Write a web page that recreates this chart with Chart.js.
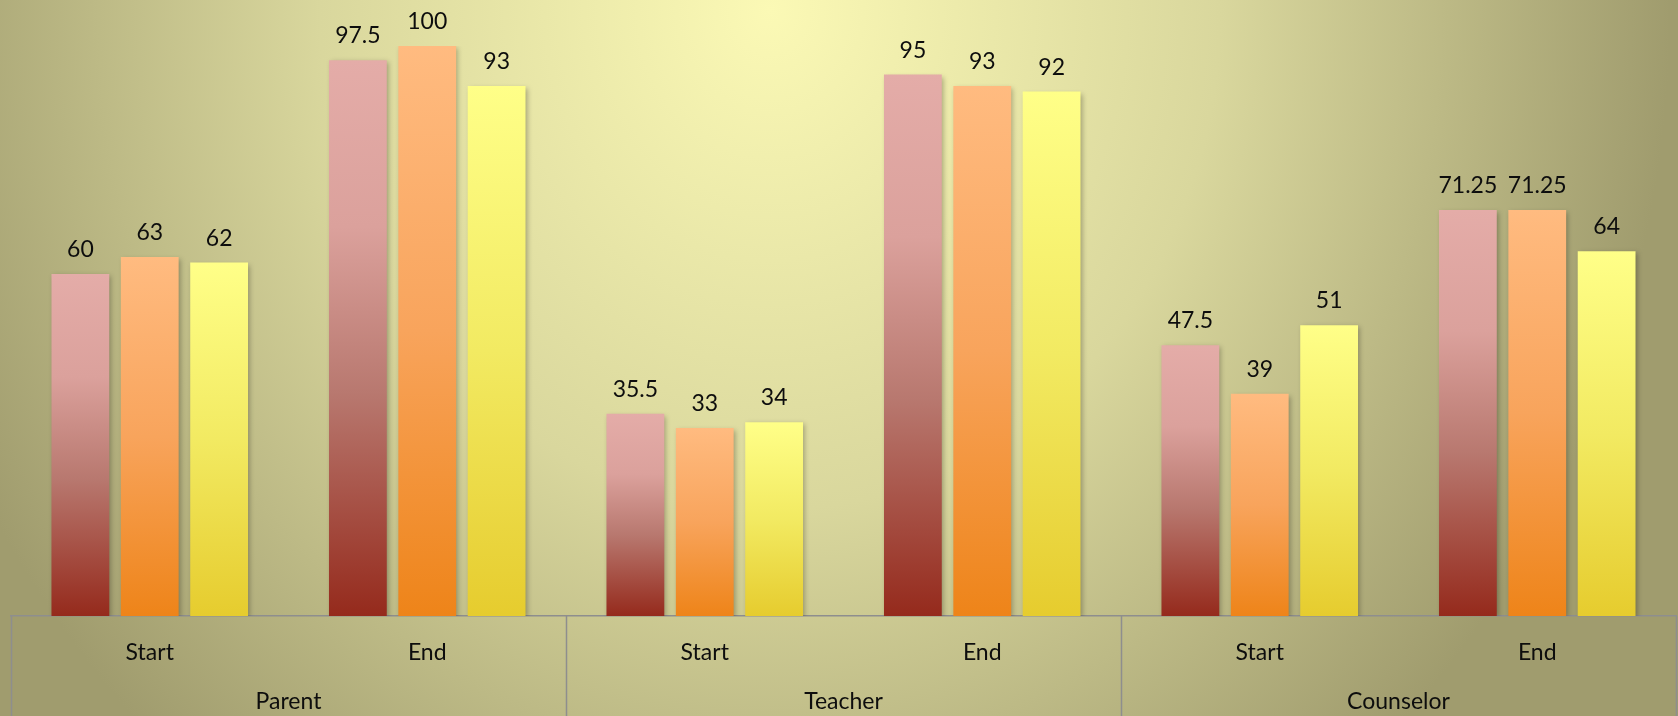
<!DOCTYPE html>
<html>
<head>
<meta charset="utf-8">
<script src="https://cdn.jsdelivr.net/npm/chart.js@4.4.1/dist/chart.umd.min.js"></script>
<style>
  html, body { margin: 0; padding: 0; }
  body {
    width: 1678px; height: 716px; overflow: hidden;
    background: radial-gradient(ellipse 900px 1000px at 770px 10px, #FBF9B5 0%, #D9D79D 50%, #A09C6E 100%);
  }
  .wrap { position: relative; width: 1678px; height: 716px; }
</style>
</head>
<body>
<div class="wrap"><canvas id="cv"></canvas></div>
<script>
const categories = ['Start', 'End', 'Start', 'End', 'Start', 'End'];
const groups = ['Parent', 'Teacher', 'Counselor'];
const series1 = [60, 97.5, 35.5, 95, 47.5, 71.25];
const series2 = [63, 100, 33, 93, 39, 71.25];
const series3 = [62, 93, 34, 92, 51, 64];

const FONT = 'Lato';
const AXIS_COLOR = '#8e8e8e';

// per bar vertical gradient, light on top, dark at the bottom
const barFill = (stops) => (c) => {
  const chart = c.chart;
  if (!chart.chartArea || c.type !== 'data') return stops[0][1];
  const y = chart.scales.y;
  const top = y.getPixelForValue(c.raw);
  const bot = y.getPixelForValue(0);
  const g = chart.ctx.createLinearGradient(0, top, 0, bot);
  stops.forEach(s => g.addColorStop(s[0], s[1]));
  return g;
};

const pinkStops = [[0, '#E4ACA8'], [0.3, '#DBA19C'], [0.6, '#B8786F'], [1, '#952A1C']];
const orangeStops = [[0, '#FFBB80'], [0.5, '#F8A45C'], [1, '#EE8419']];
const yellowStops = [[0, '#FFFF88'], [0.5, '#F2EA62'], [1, '#E6CC2E']];

const shadowPlugin = {
  id: 'shadow',
  beforeDatasetsDraw(chart) {
    const ctx = chart.ctx;
    ctx.save();
    ctx.shadowColor = 'rgba(0,0,0,0.28)';
    ctx.shadowBlur = 5;
    ctx.shadowOffsetX = 2;
    ctx.shadowOffsetY = 2;
  },
  afterDatasetsDraw(chart) {
    chart.ctx.restore();
  }
};

const labelsPlugin = {
  id: 'valueLabels',
  afterDraw(chart) {
    const ctx = chart.ctx;
    ctx.save();
    ctx.font = '23px ' + FONT;
    ctx.fillStyle = '#0d0d0d';
    ctx.textAlign = 'center';
    ctx.textBaseline = 'alphabetic';
    chart.data.datasets.forEach((ds, i) => {
      chart.getDatasetMeta(i).data.forEach((bar, j) => {
        ctx.fillText(String(ds.data[j]), bar.x, bar.y - 17);
      });
    });

    // group level of the x axis
    const x = chart.scales.x;
    const top = chart.chartArea.bottom;
    const bottom = chart.height;
    ctx.strokeStyle = AXIS_COLOR;
    ctx.lineWidth = 1.5;
    const edges = [x.left];
    for (let g = 1; g < groups.length; g++) {
      edges.push((x.getPixelForTick(g * 2 - 1) + x.getPixelForTick(g * 2)) / 2);
    }
    edges.push(x.right);
    edges.forEach(px => {
      ctx.beginPath();
      ctx.moveTo(Math.round(px) + 0.5, top);
      ctx.lineTo(Math.round(px) + 0.5, bottom);
      ctx.stroke();
    });
    groups.forEach((g, k) => {
      const cx = (x.getPixelForTick(k * 2) + x.getPixelForTick(k * 2 + 1)) / 2;
      ctx.fillText(g, cx, 709);
    });
    ctx.restore();
  }
};

new Chart(document.getElementById('cv'), {
  type: 'bar',
  data: {
    labels: categories,
    datasets: [
      { label: 'Series 1', data: series1, backgroundColor: barFill(pinkStops) },
      { label: 'Series 2', data: series2, backgroundColor: barFill(orangeStops) },
      { label: 'Series 3', data: series3, backgroundColor: barFill(yellowStops) }
    ]
  },
  options: {
    responsive: true,
    maintainAspectRatio: false,
    animation: false,
    categoryPercentage: 0.75,
    barPercentage: 0.833,
    layout: { padding: { left: 11, right: 2, top: 46, bottom: 0 } },
    plugins: {
      legend: { display: false },
      tooltip: { enabled: false }
    },
    scales: {
      x: {
        grid: { display: false, drawTicks: false },
        border: { display: true, color: AXIS_COLOR, width: 1.5 },
        ticks: { color: '#0d0d0d', padding: 23, font: { family: FONT, size: 23 } },
        afterFit: (s) => { s.height = 100; }
      },
      y: {
        display: false,
        min: 0,
        max: 100
      }
    }
  },
  plugins: [shadowPlugin, labelsPlugin]
});
</script>
</body>
</html>
